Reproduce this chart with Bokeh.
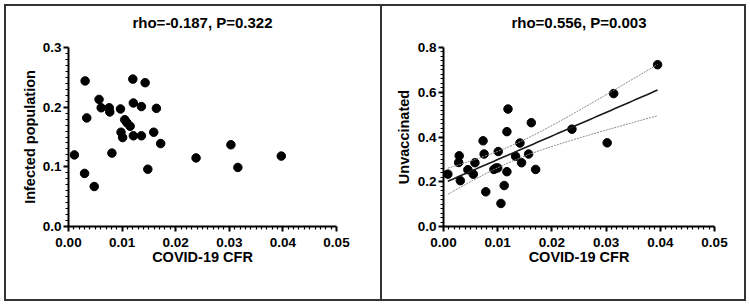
import numpy as np
from bokeh.plotting import figure
from bokeh.layouts import row
from bokeh.models import Range1d, FixedTicker, NumeralTickFormatter, Title
from bokeh.embed import file_html
from bokeh.resources import INLINE

# ---- data ----
cfr_a = [0.0011, 0.0031, 0.0034, 0.0030, 0.0048, 0.0057, 0.0061, 0.0076, 0.0077, 0.0081,
         0.0097, 0.0098, 0.0101, 0.0105, 0.0109, 0.0115, 0.0120, 0.0121, 0.0121, 0.0136,
         0.0136, 0.0143, 0.0148, 0.0159, 0.0164, 0.0172, 0.0238, 0.0303, 0.0316, 0.0397]
infected = [0.120, 0.244, 0.182, 0.089, 0.067, 0.213, 0.199, 0.199, 0.192, 0.123,
            0.197, 0.158, 0.149, 0.179, 0.174, 0.168, 0.247, 0.207, 0.152, 0.201,
            0.152, 0.241, 0.096, 0.158, 0.198, 0.139, 0.115, 0.137, 0.099, 0.118]

cfr_b = [0.0008, 0.0028, 0.0029, 0.0031, 0.0045, 0.0055, 0.0058, 0.0073, 0.0075, 0.0078,
         0.0093, 0.0097, 0.0100, 0.0101, 0.0106, 0.0112, 0.0117, 0.0119, 0.0117, 0.0133,
         0.0141, 0.0144, 0.0157, 0.0162, 0.0170, 0.0237, 0.0302, 0.0314, 0.0395]
unvaccinated = [0.234, 0.286, 0.316, 0.205, 0.254, 0.234, 0.285, 0.383, 0.324, 0.155,
                0.255, 0.261, 0.262, 0.335, 0.103, 0.183, 0.424, 0.525, 0.245, 0.314,
                0.373, 0.285, 0.324, 0.464, 0.255, 0.435, 0.374, 0.594, 0.723]

title_a = "rho=-0.187, P=0.322"
title_b = "rho=0.556, P=0.003"
x_label = "COVID-19 CFR"
y_label_a = "Infected population"
y_label_b = "Unvaccinated"
x_ticks = [0.0, 0.01, 0.02, 0.03, 0.04, 0.05]
y_ticks_a = [0.0, 0.1, 0.2, 0.3]
y_ticks_b = [0.0, 0.2, 0.4, 0.6, 0.8]

FONT = "Liberation Sans"
BORDER = "2px solid #333333"


def minor(ticks):
    out = []
    for a, b in zip(ticks[:-1], ticks[1:]):
        out.extend(np.linspace(a, b, 11)[1:-1].tolist())
    return out


def make_panel(w, h, mb, xs, ys, y_ticks, title, ylab, ylab_standoff):
    p = figure(width=w, height=h, output_backend="svg", toolbar_location=None,
               x_range=Range1d(x_ticks[0], x_ticks[-1]),
               y_range=Range1d(y_ticks[0], y_ticks[-1]),
               min_border_left=mb[0], min_border_right=mb[1],
               min_border_top=mb[2], min_border_bottom=mb[3])
    p.outline_line_color = None
    p.grid.visible = False
    p.background_fill_color = "white"
    p.border_fill_color = "white"

    p.title.text = title
    p.title.align = "center"
    p.title.text_font = FONT
    p.title.text_font_size = "15px"
    p.title.text_font_style = "bold"
    p.title.text_color = "black"
    p.title.standoff = 0
    # spacer between frame and title
    p.add_layout(Title(text=" ", text_font_size="2px", standoff=13), "above")

    p.xaxis.ticker = FixedTicker(ticks=x_ticks, minor_ticks=minor(x_ticks))
    p.yaxis.ticker = FixedTicker(ticks=y_ticks, minor_ticks=minor(y_ticks))
    p.xaxis.formatter = NumeralTickFormatter(format="0.00")
    p.yaxis.formatter = NumeralTickFormatter(format="0.0")
    p.xaxis.axis_label = x_label
    p.yaxis.axis_label = ylab
    for ax in (p.xaxis, p.yaxis):
        ax.axis_line_width = 2
        ax.axis_line_color = "black"
        ax.major_tick_line_width = 2
        ax.major_tick_line_color = "black"
        ax.minor_tick_line_width = 1.2
        ax.minor_tick_line_color = "black"
        ax.major_tick_in = 0
        ax.major_tick_out = 5
        ax.minor_tick_in = 0
        ax.minor_tick_out = 3
        ax.major_label_text_font = FONT
        ax.major_label_text_font_size = "13.5px"
        ax.major_label_text_font_style = "bold"
        ax.major_label_text_color = "black"
        ax.axis_label_text_font = FONT
        ax.axis_label_text_font_size = "14.5px"
        ax.axis_label_text_font_style = "bold"
        ax.axis_label_text_color = "black"
    p.xaxis.major_label_standoff = 6
    p.xaxis.axis_label_standoff = -1
    p.yaxis.major_label_standoff = 2
    p.yaxis.axis_label_standoff = ylab_standoff

    p.scatter(xs, ys, size=8.5, color="black")
    return p


# canvas starts inside the 2px borders and is laid out with the full width/height
p1 = make_panel(378, 297, (62, 48, 41, 77), cfr_a, infected, y_ticks_a, title_a, y_label_a, 2)
p2 = make_panel(364, 297, (61, 32, 40, 76), cfr_b, unvaccinated, y_ticks_b, title_b, y_label_b, 3)

# linear regression with 95% confidence band (right panel)
xb = np.array(cfr_b)
yb = np.array(unvaccinated)
n = len(xb)
slope, intercept = np.polyfit(xb, yb, 1)
resid = yb - (slope * xb + intercept)
s = np.sqrt(np.sum(resid ** 2) / (n - 2))
xm = xb.mean()
sxx = np.sum((xb - xm) ** 2)
t_val = 2.052
xfit = np.linspace(xb.min(), xb.max(), 60)
yfit = slope * xfit + intercept
se = s * np.sqrt(1.0 / n + (xfit - xm) ** 2 / sxx)
p2.line(xfit, yfit + t_val * se, line_color="#8a8a8a", line_width=1, line_dash="2 1")
p2.line(xfit, yfit - t_val * se, line_color="#8a8a8a", line_width=1, line_dash="2 1")
p2.line(xfit, yfit, line_color="#1a1a1a", line_width=1.6)

p1.styles = {"border-top": BORDER, "border-bottom": BORDER, "border-left": BORDER,
             "border-right": BORDER}
p2.styles = {"border-top": BORDER, "border-bottom": BORDER, "border-right": BORDER}

layout = row(p1, p2, styles={"margin-left": "4px", "margin-top": "4px"})

open("out.html", "w").write(file_html(layout, INLINE))
